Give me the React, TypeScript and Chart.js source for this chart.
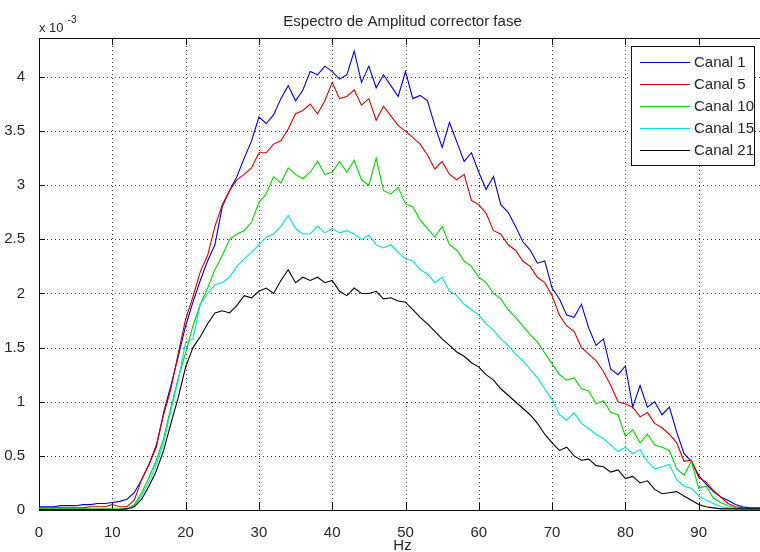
import React, { useEffect, useRef } from 'react';
import { Chart, registerables } from 'chart.js';

Chart.register(...registerables);

// Frequency axis (Hz)
const freqHz = [
  0, 1, 2, 3, 4, 5, 6, 7, 8, 9,
  10, 11, 12, 13, 14, 15, 16, 17, 18, 19,
  20, 21, 22, 23, 24, 25, 26, 27, 28, 29,
  30, 31, 32, 33, 34, 35, 36, 37, 38, 39,
  40, 41, 42, 43, 44, 45, 46, 47, 48, 49,
  50, 51, 52, 53, 54, 55, 56, 57, 58, 59,
  60, 61, 62, 63, 64, 65, 66, 67, 68, 69,
  70, 71, 72, 73, 74, 75, 76, 77, 78, 79,
  80, 81, 82, 83, 84, 85, 86, 87, 88, 89,
  90, 91, 92, 93, 94, 95, 96, 97, 98, 99, 100,
];

// Amplitudes in units of 10^-3
const canal1 = [
  0.03, 0.03, 0.03, 0.04, 0.04, 0.04, 0.05, 0.05, 0.06, 0.06,
  0.07, 0.08, 0.10, 0.16, 0.28, 0.42, 0.58, 0.90, 1.15, 1.42,
  1.70, 1.92, 2.12, 2.30, 2.45, 2.80, 2.95, 3.08, 3.25, 3.41,
  3.63, 3.57, 3.65, 3.80, 3.92, 3.78, 3.88, 4.05, 4.02, 4.10,
  4.05, 3.98, 4.02, 4.24, 3.95, 4.10, 3.90, 4.02, 3.92, 3.82,
  4.05, 3.80, 3.83, 3.78, 3.55, 3.35, 3.58, 3.40, 3.22, 3.30,
  3.12, 2.96, 3.08, 2.82, 2.75, 2.62, 2.48, 2.40, 2.28, 2.30,
  2.05, 1.95, 1.80, 1.78, 1.90, 1.68, 1.52, 1.58, 1.30, 1.25,
  1.33, 0.95, 1.15, 0.95, 1.00, 0.88, 0.95, 0.72, 0.52, 0.45,
  0.32, 0.24, 0.17, 0.12, 0.09, 0.05, 0.03, 0.02, 0.02, 0.02, 0.02,
];

const canal5 = [
  0.02, 0.02, 0.02, 0.02, 0.02, 0.02, 0.02, 0.03, 0.03, 0.03,
  0.05, 0.03, 0.03, 0.09, 0.28, 0.42, 0.60, 0.88, 1.12, 1.45,
  1.76, 1.97, 2.20, 2.35, 2.62, 2.82, 2.95, 3.05, 3.10, 3.16,
  3.30, 3.30, 3.38, 3.41, 3.52, 3.66, 3.69, 3.75, 3.66, 3.78,
  3.95, 3.80, 3.82, 3.88, 3.74, 3.80, 3.60, 3.73, 3.64, 3.55,
  3.50, 3.44, 3.38, 3.28, 3.15, 3.22, 3.10, 3.05, 3.10, 2.86,
  2.82, 2.74, 2.58, 2.55, 2.45, 2.40, 2.30, 2.25, 2.15, 2.10,
  1.98, 1.80, 1.70, 1.65, 1.50, 1.44, 1.38, 1.28, 1.15, 1.00,
  0.98, 0.95, 0.86, 0.90, 0.80, 0.76, 0.70, 0.62, 0.45, 0.46,
  0.30, 0.26, 0.18, 0.12, 0.06, 0.03, 0.02, 0.01, 0.01, 0.01, 0.01,
];

const canal10 = [
  0.01, 0.01, 0.01, 0.01, 0.01, 0.01, 0.01, 0.01, 0.01, 0.01,
  0.01, 0.01, 0.01, 0.05, 0.16, 0.30, 0.46, 0.66, 0.95, 1.22,
  1.45, 1.70, 1.90, 2.05, 2.22, 2.35, 2.50, 2.55, 2.58, 2.66,
  2.84, 2.92, 3.08, 3.02, 3.16, 3.10, 3.06, 3.12, 3.22, 3.10,
  3.12, 3.22, 3.12, 3.23, 3.05, 3.00, 3.25, 2.95, 2.92, 2.98,
  2.83, 2.80, 2.68, 2.60, 2.52, 2.62, 2.45, 2.40, 2.30, 2.25,
  2.15, 2.10, 2.00, 1.95, 1.85, 1.78, 1.70, 1.62, 1.55, 1.45,
  1.35, 1.25, 1.20, 1.22, 1.12, 1.10, 0.98, 1.01, 0.90, 0.88,
  0.68, 0.74, 0.62, 0.70, 0.60, 0.58, 0.55, 0.38, 0.32, 0.45,
  0.20, 0.22, 0.11, 0.07, 0.04, 0.02, 0.01, 0.01, 0.01, 0.01, 0.01,
];

const canal15 = [
  0.005, 0.005, 0.005, 0.005, 0.005, 0.005, 0.005, 0.005, 0.005, 0.005,
  0.005, 0.005, 0.01, 0.04, 0.13, 0.26, 0.42, 0.62, 0.92, 1.20,
  1.55, 1.58, 1.90, 2.00, 2.08, 2.10, 2.15, 2.25, 2.32, 2.38,
  2.45, 2.52, 2.55, 2.62, 2.72, 2.60, 2.55, 2.55, 2.62, 2.56,
  2.60, 2.56, 2.58, 2.55, 2.50, 2.54, 2.45, 2.42, 2.45, 2.38,
  2.32, 2.30, 2.22, 2.18, 2.10, 2.15, 2.02, 1.98, 1.90, 1.85,
  1.80, 1.72, 1.66, 1.58, 1.52, 1.44, 1.38, 1.30, 1.22, 1.12,
  1.02, 0.88, 0.83, 0.90, 0.80, 0.75, 0.70, 0.66, 0.60, 0.54,
  0.58, 0.52, 0.56, 0.45, 0.38, 0.40, 0.42, 0.28, 0.22, 0.20,
  0.13, 0.09, 0.06, 0.03, 0.02, 0.01, 0.01, 0.01, 0.01, 0.01, 0.01,
];

const canal21 = [
  0.005, 0.005, 0.005, 0.005, 0.005, 0.005, 0.005, 0.005, 0.005, 0.005,
  0.005, 0.005, 0.01, 0.03, 0.10, 0.22, 0.36, 0.55, 0.80, 1.04,
  1.32, 1.50, 1.60, 1.72, 1.82, 1.84, 1.82, 1.89, 1.98, 1.96,
  2.02, 2.05, 2.00, 2.12, 2.22, 2.10, 2.15, 2.12, 2.15, 2.10,
  2.12, 2.02, 1.98, 2.05, 2.00, 2.00, 2.02, 1.95, 1.96, 1.93,
  1.92, 1.85, 1.78, 1.72, 1.65, 1.58, 1.52, 1.46, 1.42, 1.36,
  1.32, 1.25, 1.20, 1.12, 1.06, 1.00, 0.94, 0.88, 0.80, 0.70,
  0.62, 0.55, 0.58, 0.50, 0.46, 0.47, 0.41, 0.40, 0.35, 0.37,
  0.29, 0.31, 0.25, 0.27, 0.19, 0.15, 0.16, 0.17, 0.13, 0.09,
  0.05, 0.03, 0.02, 0.01, 0.01, 0.01, 0.01, 0.01, 0.01, 0.01, 0.01,
];

const seriesValues = [canal1, canal5, canal10, canal15, canal21];
const seriesLabels = ['Canal 1', 'Canal 5', 'Canal 10', 'Canal 15', 'Canal 21'];
const seriesColors = ['#0000c8', '#d40000', '#00d400', '#00dede', '#000000'];

const xTickValues = [0, 10, 20, 30, 40, 50, 60, 70, 80, 90, 100];
const yTickValues = [0, 0.5, 1, 1.5, 2, 2.5, 3, 3.5, 4];
const xMin = 0;
const xMax = 100;
const yMin = 0;
const yMax = 4.36;

const titleText = 'Espectro de Amplitud corrector fase';
const xAxisLabel = 'Hz';
const yMultiplierBase = 'x 10';
const yMultiplierExp = '-3';

const FONT = '"Liberation Sans", Arial, Helvetica, sans-serif';
const TEXT_COLOR = '#262626';

const matlabAxesPlugin = {
  id: 'matlabAxes',
  beforeDatasetsDraw(chart: any) {
    const { ctx, chartArea, scales } = chart;
    const { left, right, top, bottom } = chartArea;
    const xs = scales.x;
    const ys = scales.y;
    ctx.save();
    // dotted grid
    ctx.strokeStyle = '#3a3a3a';
    ctx.lineWidth = 1;
    ctx.setLineDash([1, 3]);
    xs.ticks.forEach((t: any) => {
      const px = Math.round(xs.getPixelForValue(t.value)) + 0.5;
      if (px <= left + 1 || px >= right - 1) return;
      ctx.beginPath();
      ctx.moveTo(px, top);
      ctx.lineTo(px, bottom);
      ctx.stroke();
    });
    ys.ticks.forEach((t: any) => {
      const py = Math.round(ys.getPixelForValue(t.value)) + 0.5;
      if (py >= bottom - 1 || py <= top + 1) return;
      ctx.beginPath();
      ctx.moveTo(left, py);
      ctx.lineTo(right, py);
      ctx.stroke();
    });
    ctx.setLineDash([]);
    // inward tick marks
    ctx.strokeStyle = '#111';
    const tl = 7;
    xs.ticks.forEach((t: any) => {
      const px = Math.round(xs.getPixelForValue(t.value)) + 0.5;
      ctx.beginPath();
      ctx.moveTo(px, bottom);
      ctx.lineTo(px, bottom - tl);
      ctx.moveTo(px, top);
      ctx.lineTo(px, top + tl);
      ctx.stroke();
    });
    ys.ticks.forEach((t: any) => {
      const py = Math.round(ys.getPixelForValue(t.value)) + 0.5;
      ctx.beginPath();
      ctx.moveTo(left, py);
      ctx.lineTo(left + 6, py);
      ctx.moveTo(right, py);
      ctx.lineTo(right - 6, py);
      ctx.stroke();
    });
    // frame
    ctx.strokeStyle = '#111';
    ctx.strokeRect(Math.round(left) + 0.5, Math.round(top) + 0.5, Math.round(right - left), Math.round(bottom - top));
    ctx.restore();
  },
  afterDraw(chart: any) {
    const { ctx, chartArea } = chart;
    const { left, right, top, bottom } = chartArea;
    ctx.save();
    ctx.fillStyle = TEXT_COLOR;
    // title
    ctx.font = `15px ${FONT}`;
    ctx.textAlign = 'center';
    ctx.textBaseline = 'middle';
    const cx = (left + right) / 2 - 3;
    ctx.fillText(titleText, cx, 22);
    // x label
    ctx.fillText(xAxisLabel, cx, 546);
    // multiplier
    ctx.textAlign = 'left';
    ctx.textBaseline = 'alphabetic';
    ctx.font = `13px ${FONT}`;
    ctx.fillText(yMultiplierBase, left, 32);
    const w = ctx.measureText(yMultiplierBase).width;
    ctx.font = `10px ${FONT}`;
    ctx.fillText(yMultiplierExp, left + w + 4, 23);

    // legend
    const bx = 631.5, by = 46.5, bw = 123, bh = 119;
    ctx.fillStyle = '#ffffff';
    ctx.fillRect(bx, by, bw, bh);
    ctx.strokeStyle = '#111';
    ctx.lineWidth = 1;
    ctx.strokeRect(bx, by, bw, bh);
    ctx.font = `15px ${FONT}`;
    ctx.textBaseline = 'middle';
    seriesLabels.forEach((lab, i) => {
      const y = Math.round(61.5 + i * 22) + 0.5;
      ctx.strokeStyle = seriesColors[i];
      ctx.lineWidth = 1.2;
      ctx.beginPath();
      ctx.moveTo(640, y);
      ctx.lineTo(690, y);
      ctx.stroke();
      ctx.fillStyle = TEXT_COLOR;
      ctx.fillText(lab, 694, y + 0.5);
    });
    ctx.restore();
  },
};

export default function App() {
  const canvasRef = useRef<HTMLCanvasElement | null>(null);

  useEffect(() => {
    document.body.style.margin = '0';
    document.body.style.overflow = 'hidden';
    const canvas = canvasRef.current;
    if (!canvas) return;
    const datasets = seriesValues.map((vals, k) => ({
      label: seriesLabels[k],
      data: freqHz.map((f, i) => ({ x: f, y: vals[i] })),
      borderColor: seriesColors[k],
      backgroundColor: seriesColors[k],
      borderWidth: 1.1,
      pointRadius: 0,
      tension: 0,
      fill: false,
      order: seriesValues.length - k,
    }));
    const tickFont = { family: FONT, size: 15 };
    const chart = new Chart(canvas, {
      type: 'line',
      data: { datasets },
      options: {
        responsive: false,
        animation: false,
        events: [],
        layout: { padding: { left: 0, right: 8, top: 38, bottom: 0 } },
        plugins: {
          legend: { display: false },
          title: { display: false },
          tooltip: { enabled: false },
        },
        scales: {
          x: {
            type: 'linear',
            min: xMin,
            max: xMax,
            grid: { display: false },
            border: { display: false },
            afterBuildTicks: (s: any) => {
              s.ticks = xTickValues.map((v) => ({ value: v }));
            },
            afterFit: (s: any) => {
              s.height = 42;
            },
            ticks: {
              padding: 6,
              font: tickFont,
              color: TEXT_COLOR,
              maxRotation: 0,
              autoSkip: false,
              callback: (v: any) => (v === 100 ? '' : String(v)),
            },
          },
          y: {
            type: 'linear',
            min: yMin,
            max: yMax,
            grid: { display: false },
            border: { display: false },
            afterBuildTicks: (s: any) => {
              s.ticks = yTickValues.map((v) => ({ value: v }));
            },
            afterFit: (s: any) => {
              s.width = 39;
            },
            ticks: {
              padding: 6,
              font: tickFont,
              color: TEXT_COLOR,
              autoSkip: false,
              callback: (v: any) => String(v),
            },
          },
        },
      },
      plugins: [matlabAxesPlugin],
    } as any);
    return () => chart.destroy();
  }, []);

  return (
    <div style={{ width: 760, height: 552, overflow: 'hidden', position: 'relative', background: '#fff' }}>
      <canvas ref={canvasRef} width={780} height={552} style={{ display: 'block', width: 780, height: 552 }} />
    </div>
  );
}
